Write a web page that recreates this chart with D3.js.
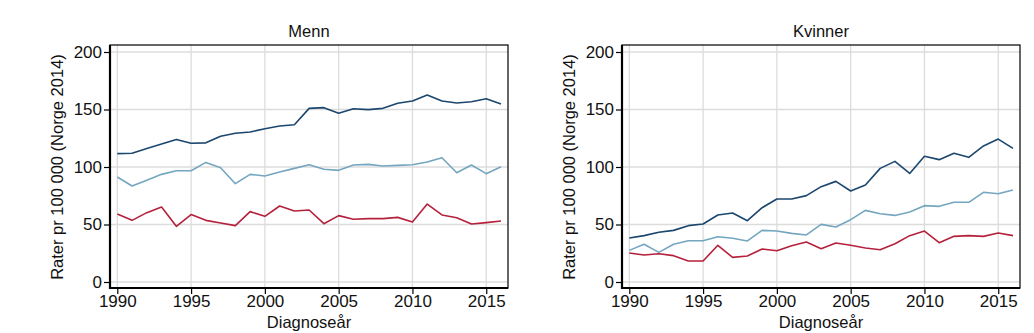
<!DOCTYPE html>
<html>
<head>
<meta charset="utf-8">
<script src="https://cdn.jsdelivr.net/npm/d3@7"></script>
<style>
	body { margin: 0; background: #fff; }
	svg { display: block; font-family: "Liberation Sans", Arial, sans-serif; }
	.grid line { stroke: #dcdcdc; stroke-width: 1.3; }
	.tick text { fill: #111; font-size: 17px; }
</style>
</head>
<body>
<script>
var years = d3.range(1990, 2017);

var menn_high = [111.6, 112, 116, 120, 124, 120.6, 121, 126.7, 129.3, 130.4, 133.3, 135.6, 136.8, 151, 151.6,
	146.7, 150.7, 149.9, 151, 155.4, 157.4, 162.6, 157.4, 155.7, 156.8, 159.4, 154.8];
var menn_mid = [91.3, 83.5, 88.4, 93.6, 96.8, 96.8, 104, 99.4, 85.5, 93.6, 92.2, 95.7, 98.8, 102, 98,
	97.1, 101.7, 102.3, 100.9, 101.4, 102, 104.3, 108.1, 95, 101.7, 94.2, 100.3];
var menn_low = [59.1, 53.6, 60.3, 65.2, 48.4, 58.6, 53.6, 51.3, 49, 61.2, 57.1, 66.1, 61.7, 62.6, 50.7,
	57.7, 54.5, 55.1, 55.1, 56.2, 52.2, 67.8, 58.3, 55.9, 50.4, 51.6, 53];

var kvinner_high = [38.3, 40.3, 43.2, 44.9, 49, 50.4, 58.3, 60, 53.3, 64.6, 72.2, 72.2, 75.1, 82.9, 87.5,
	79.1, 84.3, 98.8, 104.9, 94.4, 109.3, 106.4, 111.9, 108.4, 118.3, 124.3, 116.2];
var kvinner_mid = [27.5, 32.8, 25.8, 32.8, 35.9, 35.9, 39.4, 38, 35.7, 44.9, 44.3, 42.3, 40.9, 50.1, 47.8,
	54.2, 62.3, 59.4, 57.9, 60.9, 66.4, 65.8, 69.3, 69.3, 78, 76.8, 80];
var kvinner_low = [25.2, 23.5, 24.6, 22.9, 18.3, 18.3, 31.9, 21.4, 22.6, 28.7, 27.2, 31.6, 34.8, 29, 33.9,
	31.9, 29.6, 28.1, 33.3, 40.3, 44.3, 34.2, 39.7, 40.3, 39.7, 42.6, 40.3];

var xTicks = [1990, 1995, 2000, 2005, 2010, 2015];
var yTicks = [0, 50, 100, 150, 200];

var colors = ['#1b466e', '#74a6bf', '#b5203b'];

var panels = [
	{ title: 'Menn', left: 110, series: [menn_high, menn_mid, menn_low] },
	{ title: 'Kvinner', left: 622, series: [kvinner_high, kvinner_mid, kvinner_low] }
];

var width = 1034, height = 333;
var frameW = 398, frameTop = 45, frameBottom = 288;

var svg = d3.select('body')
	.append('svg')
	.attr('width', width)
	.attr('height', height);

panels.forEach(function(p) {
	var g = svg.append('g').attr('transform', 'translate(' + p.left + ',0)');

	var x = d3.scaleLinear().domain([1990, 2016]).range([7.3, 391]);
	var y = d3.scaleLinear().domain([0, 200]).range([282, 52]);

	// grid
	g.append('g').attr('class', 'grid')
		.selectAll('line.h').data(yTicks).enter().append('line')
		.attr('x1', 0).attr('x2', frameW)
		.attr('y1', function(d) { return y(d); })
		.attr('y2', function(d) { return y(d); });
	g.append('g').attr('class', 'grid')
		.selectAll('line.v').data(xTicks).enter().append('line')
		.attr('y1', frameTop).attr('y2', frameBottom)
		.attr('x1', function(d) { return x(d); })
		.attr('x2', function(d) { return x(d); });

	// outer frame
	g.append('rect')
		.attr('x', 0).attr('y', frameTop)
		.attr('width', frameW).attr('height', frameBottom - frameTop)
		.attr('fill', 'none').attr('stroke', '#000').attr('stroke-width', 1.2);

	var line = d3.line()
		.x(function(d, i) { return x(years[i]); })
		.y(function(d) { return y(d); });

	p.series.forEach(function(s, i) {
		g.append('path')
			.datum(s)
			.attr('d', line)
			.attr('fill', 'none')
			.attr('stroke', colors[i])
			.attr('stroke-width', 1.6)
			.attr('stroke-linejoin', 'round');
	});

	// axes
	var yAxis = g.append('g')
		.call(d3.axisLeft(y).tickValues(yTicks).tickSize(6).tickPadding(2));
	yAxis.select('.domain').remove();
	yAxis.selectAll('.tick line').attr('stroke', '#000').attr('stroke-width', 1.2);
	g.append('line')
		.attr('x1', 0).attr('x2', 0).attr('y1', frameTop).attr('y2', frameBottom + 1)
		.attr('stroke', '#000').attr('stroke-width', 2.2);

	var xAxis = g.append('g')
		.attr('transform', 'translate(0,' + frameBottom + ')')
		.call(d3.axisBottom(x).tickValues(xTicks).tickFormat(d3.format('d')).tickSize(6).tickPadding(1));
	xAxis.select('.domain').remove();
	xAxis.selectAll('.tick line').attr('stroke', '#000').attr('stroke-width', 1.2);
	g.append('line')
		.attr('x1', -1).attr('x2', frameW).attr('y1', frameBottom).attr('y2', frameBottom)
		.attr('stroke', '#000').attr('stroke-width', 2.2);

	// titles
	g.append('text')
		.attr('x', frameW / 2).attr('y', 37)
		.attr('text-anchor', 'middle')
		.attr('font-size', 16.5).attr('fill', '#111')
		.text(p.title);
	g.append('text')
		.attr('x', frameW / 2).attr('y', 328)
		.attr('text-anchor', 'middle')
		.attr('font-size', 16.5).attr('fill', '#111')
		.text('Diagnoseår');
	g.append('text')
		.attr('transform', 'translate(-47,167) rotate(-90)')
		.attr('text-anchor', 'middle')
		.attr('font-size', 16.5).attr('fill', '#111')
		.text('Rater pr 100 000 (Norge 2014)');
});
</script>
</body>
</html>
